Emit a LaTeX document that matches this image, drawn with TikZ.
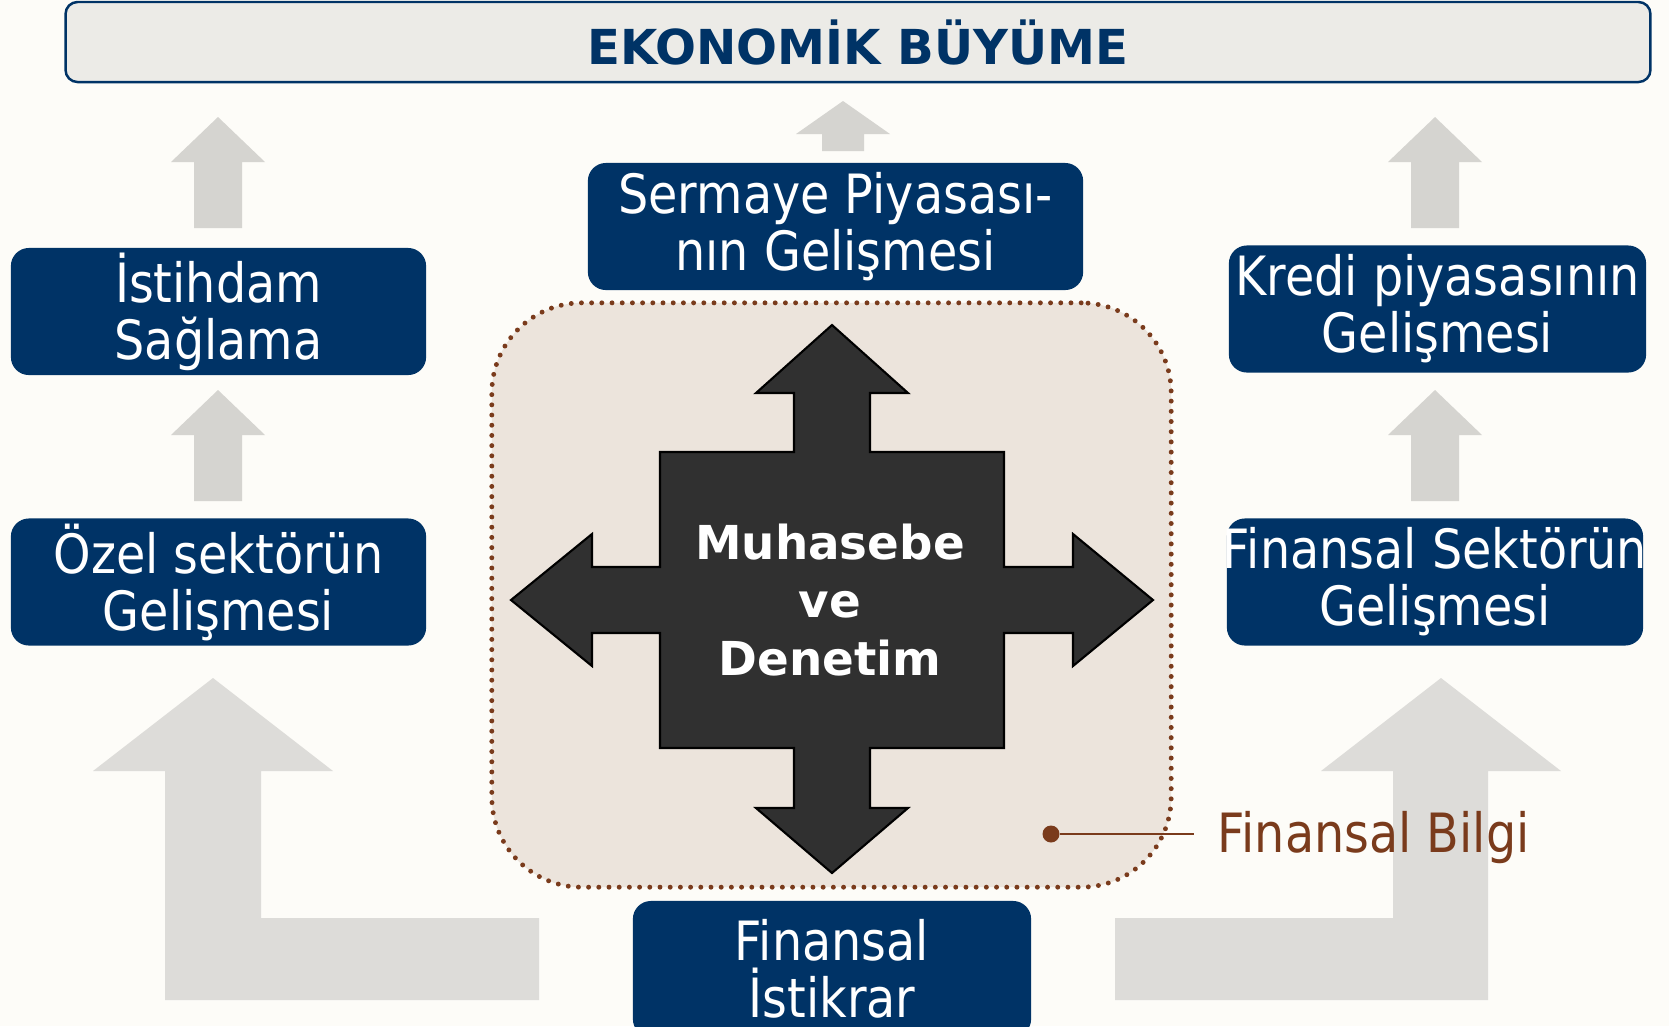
\documentclass[tikz,border=0pt]{standalone}
\usepackage{fontspec}
\setmainfont{DejaVu Sans}
\newfontfamily\kutufont[FakeStretch=0.88]{DejaVu Sans}
\usetikzlibrary{positioning}
\definecolor{lacivert}{RGB}{0,51,102}
\definecolor{zemin}{RGB}{253,252,248}
\definecolor{gri}{RGB}{221,220,217}
\definecolor{acikgri}{RGB}{213,212,208}
\definecolor{kahve}{RGB}{122,59,28}
\definecolor{bej}{RGB}{236,228,220}
\definecolor{koyu}{RGB}{48,48,48}
\definecolor{baslikzemin}{RGB}{236,235,231}
\tikzset{
	kucukok/.pic = {
			\fill[acikgri] (0,0) -- (47,45) -- (24,45) -- (24,111) -- (-24,111) -- (-24,45) -- (-47,45) -- cycle;
			}
		}

\begin{document}
\begin{tikzpicture}
		[x=0.01cm, y=-0.01cm,
		kutu/.style = {fill=lacivert, rounded corners=0.18cm, text=white, align=center, inner sep=0pt,
			minimum height=1.27cm, font=\kutufont\fontsize{15.4pt}{16.2pt}\selectfont},
		baslikkutu/.style = {fill=baslikzemin, draw=lacivert, line width=0.7pt, rounded corners=0.12cm,
			text=lacivert, inner sep=0pt, font=\bfseries\fontsize{13.7pt}{16pt}\selectfont},
		cerceve/.style = {fill=bej, draw=kahve, line width=1.4pt, line cap=round,
			dash pattern=on 0pt off 2.9pt, rounded corners=0.9cm, inner sep=0pt},
		buyukok/.style = {fill=gri},
		nokta/.style = {fill=kahve, circle, inner sep=0pt, minimum size=0.17cm}
		]
	\useasboundingbox (0,0) rectangle (1669,1026);
	\clip (0,0) rectangle (1669,1026);
	\fill[zemin] (0,0) rectangle (1669,1026);

	% gri oklar
	\fill[buyukok] (213,678) -- (333,771) -- (261,771) -- (261,918) -- (539,918) -- (539,1000)
		-- (165,1000) -- (165,771) -- (93,771) -- cycle;
	\fill[buyukok] (1441,678) -- (1561,771) -- (1488,771) -- (1488,1000) -- (1115,1000)
		-- (1115,918) -- (1393,918) -- (1393,771) -- (1321,771) -- cycle;
	\pic at (218,117) {kucukok};
	\pic at (218,390) {kucukok};
	\pic at (1435,117) {kucukok};
	\pic at (1435,390) {kucukok};
	\fill[acikgri] (843,101) -- (890,134) -- (864,134) -- (864,151) -- (822,151) -- (822,134) -- (796,134) -- cycle;

	\node[baslikkutu, minimum width=15.84cm, minimum height=0.8cm] (baslik) at (858,42) {EKONOM\.{I}K B\"UY\"UME};

	\node[cerceve, minimum width=6.79cm, minimum height=5.84cm] (bilgi) at (831.5,595) {};

	% muhasebe ve denetim
	\begin{scope}[shift={(832,600)}]
		\filldraw[fill=koyu, draw=black, line width=0.6pt]
			(0,-275) -- (76,-207) -- (38,-207) -- (38,-148) -- (172,-148) -- (172,-33) -- (241,-33)
			-- (241,-66) -- (321,0) -- (241,66) -- (241,33) -- (172,33) -- (172,148) -- (38,148)
			-- (38,208) -- (76,208) -- (0,273) -- (-76,208) -- (-38,208) -- (-38,148) -- (-172,148)
			-- (-172,33) -- (-240,33) -- (-240,66) -- (-321,0) -- (-240,-66) -- (-240,-33)
			-- (-172,-33) -- (-172,-148) -- (-38,-148) -- (-38,-207) -- (-76,-207) -- cycle;
	\end{scope}
	\node[text=white, align=center, font=\bfseries\fontsize{13.3pt}{16.4pt}\selectfont] (muhasebe)
		at (830,600) {Muhasebe\\ve\\Denetim};

	\node[kutu, minimum width=4.15cm] (istihdam) at (218.5,311.5) {\.{I}stihdam\\Sağlama};
	\node[kutu, minimum width=4.15cm] (ozel) at (218.5,582) {Özel sektörün\\Gelişmesi};
	\node[kutu, minimum width=4.95cm] (sermaye) at (835.5,226.5) {Sermaye Piyasası-\\nın Gelişmesi};
	\node[kutu, minimum width=4.17cm] (kredi) at (1437.5,309) {Kredi piyasasının\\Gelişmesi};
	\node[kutu, minimum width=4.16cm] (finsektor) at (1435,582) {\makebox[4.1cm]{Finansal Sektörün}\\Gelişmesi};
	\node[kutu, minimum width=3.98cm, minimum height=1.36cm] (istikrar) at (832,969) {Finansal\\\.{I}stikrar};

	% finansal bilgi
	\node[nokta] (fbnokta) at (1051,834) {};
	\node[anchor=base west, inner sep=0pt, text=kahve, font=\kutufont\fontsize{15.4pt}{16.1pt}\selectfont]
		(fbilgi) at (1217,852) {Finansal Bilgi};
	\draw[kahve, line width=0.6pt, shorten >=0.23cm] (fbnokta) -- (fbnokta -| fbilgi.west);
\end{tikzpicture}
\end{document}
